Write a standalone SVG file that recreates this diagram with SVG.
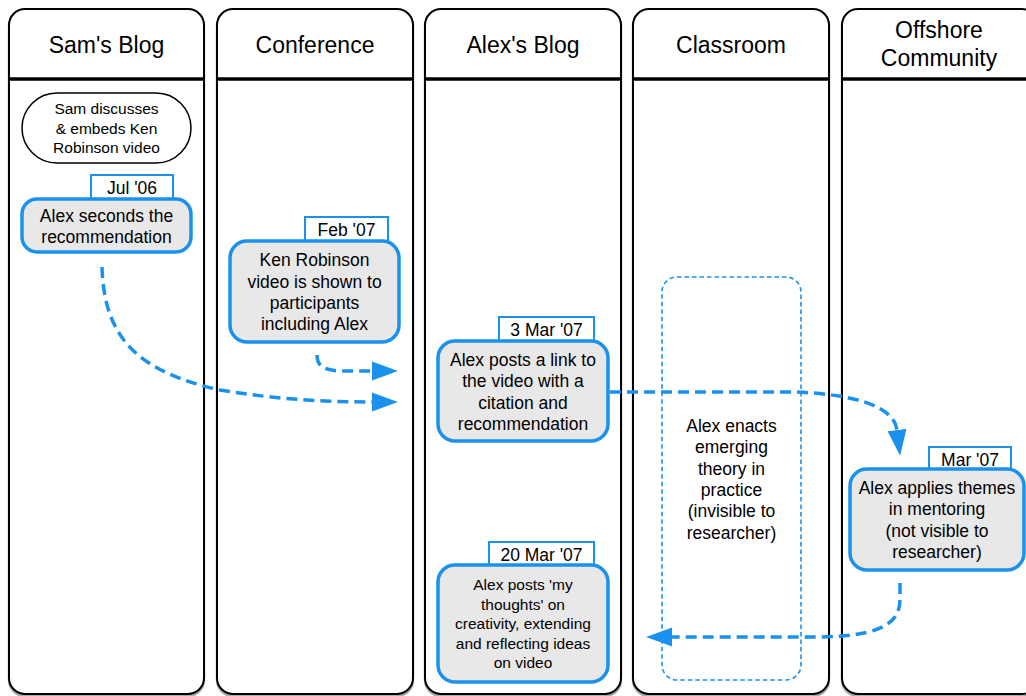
<svg xmlns="http://www.w3.org/2000/svg" width="1026" height="696" viewBox="0 0 1026 696">
<style>
.lane{fill:#fff;stroke:#000;stroke-width:2}
.shadow{fill:none;stroke:#777;stroke-width:2.5;opacity:0.6}
.div{stroke:#000;stroke-width:3.5}
.hdr{font-family:"Liberation Sans",Arial,sans-serif;font-size:23px;fill:#000;text-anchor:middle}
.t{font-family:"Liberation Sans",Arial,sans-serif;font-size:17.5px;fill:#000;text-anchor:middle}
.ts{font-family:"Liberation Sans",Arial,sans-serif;font-size:15.5px;fill:#000;text-anchor:middle}
.node{fill:#e8e8e8;stroke:#1b91ee;stroke-width:3.5}
.tag{fill:#fff;stroke:#1b91ee;stroke-width:2}
.start{fill:#fff;stroke:#000;stroke-width:1.5}
.ghost{fill:none;stroke:#1b91ee;stroke-width:1.6;stroke-dasharray:4.5,3}
.conn{fill:none;stroke:#1b91ee;stroke-width:3.5;stroke-dasharray:11,6;marker-end:url(#ah)}
</style>
<defs>
<marker id="ah" markerUnits="userSpaceOnUse" markerWidth="28" markerHeight="22" viewBox="0 -11 28 22" refX="0" refY="0" orient="auto">
<path d="M0,-9.5 L26,0 L0,9.5 Z" fill="#1b91ee"/>
</marker>
</defs>
<rect width="1026" height="696" fill="#fff"/>

<g id="lane-sams-blog">
<rect class="shadow" x="9" y="11" width="195" height="685" rx="16"/>
<rect class="lane" x="9" y="9" width="195" height="685" rx="16"/>
<line class="div" x1="9" y1="79" x2="204" y2="79"/>
<text class="hdr" x="106.5" y="53">Sam's Blog</text>
</g>
<g id="lane-conference">
<rect class="shadow" x="217" y="11" width="196" height="685" rx="16"/>
<rect class="lane" x="217" y="9" width="196" height="685" rx="16"/>
<line class="div" x1="217" y1="79" x2="413" y2="79"/>
<text class="hdr" x="315" y="53">Conference</text>
</g>
<g id="lane-alexs-blog">
<rect class="shadow" x="425" y="11" width="196" height="685" rx="16"/>
<rect class="lane" x="425" y="9" width="196" height="685" rx="16"/>
<line class="div" x1="425" y1="79" x2="621" y2="79"/>
<text class="hdr" x="523" y="53">Alex's Blog</text>
</g>
<g id="lane-classroom">
<rect class="shadow" x="633" y="11" width="196" height="685" rx="16"/>
<rect class="lane" x="633" y="9" width="196" height="685" rx="16"/>
<line class="div" x1="633" y1="79" x2="829" y2="79"/>
<text class="hdr" x="731" y="53">Classroom</text>
</g>
<g id="lane-offshore">
<rect class="shadow" x="842" y="11" width="196" height="685" rx="16"/>
<rect class="lane" x="842" y="9" width="196" height="685" rx="16"/>
<line class="div" x1="842" y1="79" x2="1038" y2="79"/>
<text class="hdr" x="939" y="38">Offshore</text>
<text class="hdr" x="939" y="66">Community</text>
</g>

<g id="node-sam-discusses">
<rect class="start" x="22" y="93" width="169" height="70" rx="35"/>
<text class="ts" x="106.5" y="114.3">Sam discusses</text>
<text class="ts" x="106.5" y="133.5">&amp; embeds Ken</text>
<text class="ts" x="106.5" y="152.7">Robinson video</text>
</g>

<g id="node-alex-seconds">
<rect class="tag" x="91" y="175" width="82" height="26"/>
<text class="t" x="132" y="193.5">Jul '06</text>
<rect class="node" x="22" y="199" width="169" height="53" rx="15"/>
<text class="t" x="106.5" y="222">Alex seconds the</text>
<text class="t" x="106.5" y="242.5">recommendation</text>
</g>

<g id="node-ken-robinson">
<rect class="tag" x="305" y="217" width="83" height="26"/>
<text class="t" x="346.5" y="236">Feb '07</text>
<rect class="node" x="230" y="241" width="169" height="101" rx="17"/>
<text class="t" x="314.5" y="266">Ken Robinson</text>
<text class="t" x="314.5" y="287.5">video is shown to</text>
<text class="t" x="314.5" y="309">participants</text>
<text class="t" x="314.5" y="330">including Alex</text>
</g>

<g id="node-alex-posts-link">
<rect class="tag" x="499" y="317" width="95" height="26"/>
<text class="t" x="546.5" y="335.5">3 Mar '07</text>
<rect class="node" x="438" y="341" width="170" height="100" rx="17"/>
<text class="t" x="523" y="366">Alex posts a link to</text>
<text class="t" x="523" y="387">the video with a</text>
<text class="t" x="523" y="408.5">citation and</text>
<text class="t" x="523" y="429.5">recommendation</text>
</g>

<g id="node-classroom-enacts">
<rect class="ghost" x="662" y="277" width="139" height="403" rx="15"/>
<text class="t" x="731.5" y="432">Alex enacts</text>
<text class="t" x="731.5" y="453">emerging</text>
<text class="t" x="731.5" y="474.5">theory in</text>
<text class="t" x="731.5" y="496">practice</text>
<text class="t" x="731.5" y="517">(invisible to</text>
<text class="t" x="731.5" y="538.5">researcher)</text>
</g>

<g id="node-alex-applies">
<rect class="tag" x="929" y="447" width="82" height="25"/>
<text class="t" x="970" y="465.5">Mar '07</text>
<rect class="node" x="850" y="469" width="174" height="101" rx="17"/>
<text class="t" x="937" y="493.5">Alex applies themes</text>
<text class="t" x="937" y="515">in mentoring</text>
<text class="t" x="937" y="536.5">(not visible to</text>
<text class="t" x="937" y="558">researcher)</text>
</g>

<g id="node-alex-thoughts">
<rect class="tag" x="489" y="542" width="105" height="25"/>
<text class="t" x="541.5" y="561">20 Mar '07</text>
<rect class="node" x="438" y="565" width="170" height="117" rx="17"/>
<text class="ts" x="523" y="590">Alex posts 'my</text>
<text class="ts" x="523" y="609.5">thoughts' on</text>
<text class="ts" x="523" y="629">creativity, extending</text>
<text class="ts" x="523" y="648.5">and reflecting ideas</text>
<text class="ts" x="523" y="667.5">on video</text>
</g>

<g id="connectors">
<path class="conn" d="M102,267 C104,340 140,372 220,390 C280,400 330,402 372,402"/>
<path class="conn" d="M317,355 C317,367 325,371 345,371 L372,371"/>
<path class="conn" d="M610,392 L795,392 C850,394 894,405 897,430"/>
<path class="conn" d="M900,583 L900,600 C900,628 870,636 820,637 L672,637" style="marker-end:url(#ah)"/>
</g>
</svg>
